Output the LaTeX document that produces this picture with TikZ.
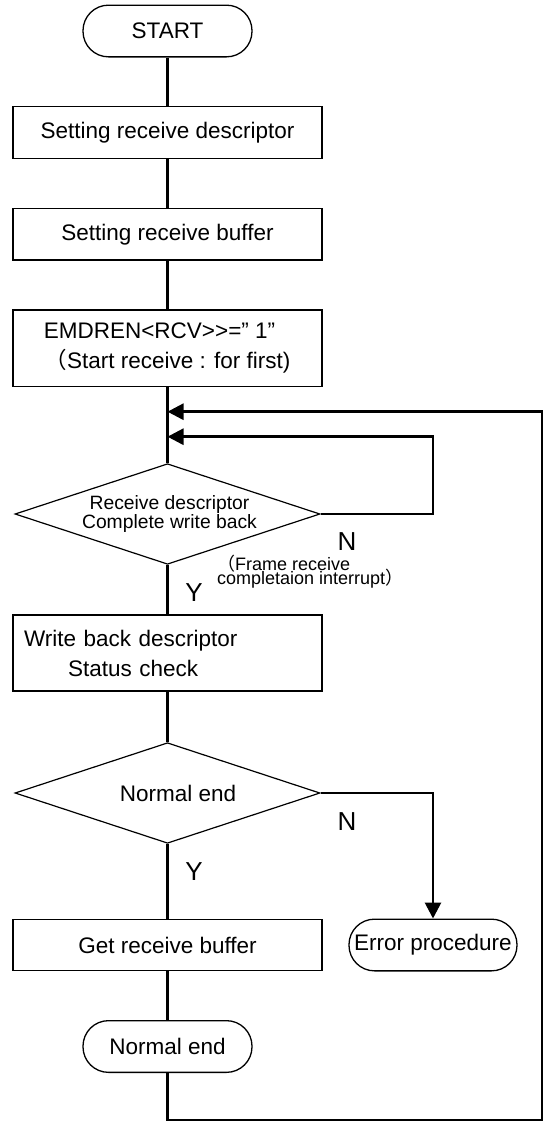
\documentclass[tikz,border=0pt]{standalone}
\usepackage{fontspec}
\setmainfont{Liberation Sans}
\newfontfamily\cjk{Noto Sans CJK JP}
\usetikzlibrary{shapes.geometric,arrows.meta}
\newcommand\fwopen{\smash{\cjk （}}
\newcommand\fwclose{\smash{\cjk ）}}
\begin{document}
\begin{tikzpicture}[x=1pt,y=-1pt,
  term/.style={draw, line width=1.3pt, rounded corners=25.5pt, minimum width=169pt, minimum height=51.7pt, inner sep=0pt, font=\fontsize{22.5}{30}\selectfont},
  proc/.style={draw, line width=1.3pt, minimum width=309pt, inner sep=0pt, font=\fontsize{22.5}{30}\selectfont, align=center},
  dec/.style={draw, diamond, aspect=3, line width=1.2pt, minimum width=305pt, minimum height=100.6pt, inner sep=0pt, align=center},
  flow/.style={line width=2.8pt},
  tip/.style={-{Triangle[length=16pt,width=16pt]}},
  yn/.style={font=\fontsize{26}{26}\selectfont, inner sep=0pt}]
\useasboundingbox (0,0) rectangle (544,1122);

\node[term] (start) at (167.5,31) {START};
\node[proc, minimum height=51.6pt] (b1) at (167.5,132.5) {Setting receive descriptor};
\node[proc, minimum height=51.3pt] (b2) at (167.5,234.3) {Setting receive buffer};
\node[proc, minimum height=76.7pt] (b3) at (167.5,348.3) {EMDREN<RCV>{}>=” 1”\hspace*{16pt}\\\fwopen Start receive : for first)};
\node[dec, font=\fontsize{19.3}{19.5}\selectfont] (d1) at (167.5,514) {\hspace*{4pt}Receive descriptor\\\hspace*{4pt}Complete write back};
\node[proc, minimum height=76pt, text width=287pt, align=left] (b4) at (167.5,653) {Write back descriptor\\\hspace*{44pt}Status check};
\node[dec, font=\fontsize{22.5}{24}\selectfont] (d2) at (167.5,793) {\hspace*{21pt}Normal end};
\node[proc, minimum height=51.4pt] (b5) at (167.5,945) {Get receive buffer};
\node[term, minimum width=168pt] (err) at (433,945) {Error procedure};
\node[term] (ne) at (167.5,1046.5) {Normal end};

\node[yn] (n1) at (347,542) {N};
\node[yn] (y1) at (194,593) {Y};
\node[yn] (n2) at (347,821.7) {N};
\node[yn] (y2) at (194,871.7) {Y};
\node[anchor=west, align=left, inner sep=0pt, font=\fontsize{18}{14.5}\selectfont] (fr) at (217,573) {\fwopen Frame receive\\completaion interrupt\fwclose};

\coordinate (j1) at (167.5,411.7);
\coordinate (j2) at (167.5,436.7);
\coordinate (r1) at (433,436.7);
\coordinate (c1) at (167.5,1120);
\coordinate (c2) at (542,1120);
\coordinate (c3) at (542,411.7);

\draw[flow] (start.south) -- (b1.north);
\draw[flow] (b1.south) -- (b2.north);
\draw[flow] (b2.south) -- (b3.north);
\draw[flow] (b3.south) -- (d1.north);
\draw[flow, tip] (d1.east) -| (r1) -- (j2);
\draw[flow] (d1.south) -- (b4.north);
\draw[flow] (b4.south) -- (d2.north);
\draw[flow] (d2.south) -- (b5.north);
\draw[flow, tip] (d2.east) -| (err.north);
\draw[flow] (b5.south) -- (ne.north);
\draw[flow, tip] (ne.south) -- (c1) -- (c2) -- (c3) -- (j1);
\end{tikzpicture}
\end{document}
